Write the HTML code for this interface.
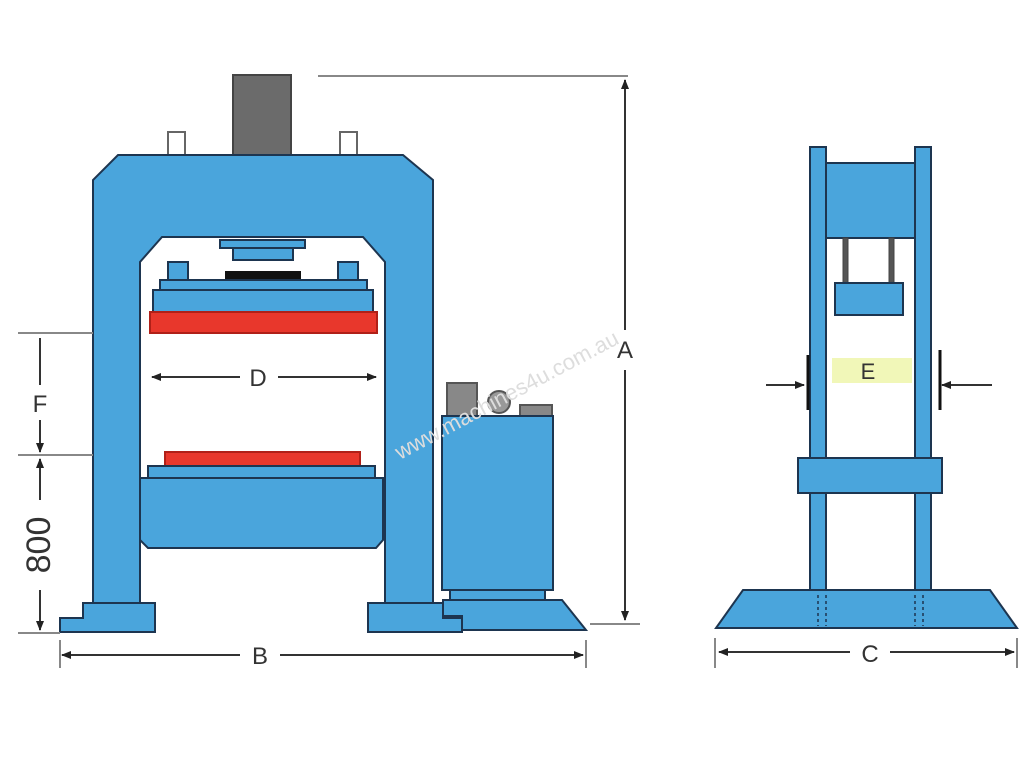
<!DOCTYPE html>
<html><head><style>body{margin:0;background:#fff}svg{display:block}</style></head><body>
<svg width="1024" height="768" viewBox="0 0 1024 768" xmlns="http://www.w3.org/2000/svg" font-family="Liberation Sans, sans-serif">
<defs>
<marker id="ar" markerWidth="10" markerHeight="8" refX="9" refY="4" orient="auto" markerUnits="userSpaceOnUse"><path d="M0,0 L10,4 L0,8 z" fill="#222"/></marker>
</defs>
<g stroke="#1d3550" stroke-width="2" fill="#4aa5dc">
<!-- cylinder & pins -->
<rect x="233" y="75" width="58" height="82" fill="#6b6b6b" stroke="#444"/>
<rect x="168" y="132" width="17" height="25" fill="#fff" stroke="#666"/>
<rect x="340" y="132" width="17" height="25" fill="#fff" stroke="#666"/>
<!-- frame -->
<path d="M118,155 L403,155 L433,180 L433,603 L385,603 L385,262 L363,237 L162,237 L140,262 L140,603 L93,603 L93,180 Z"/>
<!-- ram parts -->
<rect x="220" y="240" width="85" height="8"/>
<rect x="233" y="248" width="60" height="12"/>
<rect x="226" y="272" width="74" height="7" fill="#111" stroke="#111"/>
<rect x="168" y="262" width="20" height="18"/>
<rect x="338" y="262" width="20" height="18"/>
<rect x="160" y="280" width="207" height="10"/>
<rect x="153" y="290" width="220" height="22"/>
<rect x="150" y="312" width="227" height="21" fill="#e8372c" stroke="#b02018"/>
<!-- lower bed -->
<rect x="165" y="452" width="195" height="15" fill="#e8372c" stroke="#b02018"/>
<rect x="148" y="466" width="227" height="12"/>
<path d="M140,478 L383,478 L383,540 L376,548 L148,548 L140,540 Z"/>
<!-- feet -->
<path d="M83,603 L155,603 L155,632 L60,632 L60,618 L83,618 Z"/>
<path d="M368,603 L443,603 L443,618 L462,618 L462,632 L368,632 Z"/>
<!-- pump -->
<rect x="447" y="383" width="30" height="33" fill="#888" stroke="#555"/>
<circle cx="499" cy="402" r="11" fill="#999" stroke="#555"/>
<rect x="520" y="405" width="32" height="11" fill="#888" stroke="#555"/>
<rect x="442" y="416" width="111" height="174"/>
<rect x="450" y="590" width="95" height="10"/>
<path d="M443,600 L562,600 L586,630 L462,630 L462,616 L443,616 Z"/>
<!-- side view -->
<rect x="810" y="147" width="16" height="443"/>
<rect x="915" y="147" width="16" height="443"/>
<rect x="826" y="163" width="89" height="75"/>
<rect x="843" y="238" width="5" height="45" fill="#555" stroke="#444" stroke-width="1"/>
<rect x="889" y="238" width="5" height="45" fill="#555" stroke="#444" stroke-width="1"/>
<rect x="835" y="283" width="68" height="32"/>
<rect x="798" y="458" width="144" height="35"/>
<path d="M743,590 L990,590 L1017,628 L716,628 Z"/>
</g>
<g stroke="#1d3550" stroke-dasharray="3,3" stroke-width="1.5">
<line x1="818" y1="595" x2="818" y2="626"/><line x1="826" y1="595" x2="826" y2="626"/>
<line x1="915" y1="595" x2="915" y2="626"/><line x1="923" y1="595" x2="923" y2="626"/>
</g>
<rect x="832" y="358" width="80" height="25" fill="#f1f7b8"/>
<!-- dimension lines -->
<g stroke="#333" stroke-width="2" fill="none">
<line x1="318" y1="76" x2="628" y2="76" stroke="#888"/>
<line x1="590" y1="624" x2="640" y2="624" stroke="#888"/>
<line x1="625" y1="330" x2="625" y2="80" marker-end="url(#ar)"/>
<line x1="625" y1="370" x2="625" y2="620" marker-end="url(#ar)"/>
<line x1="240" y1="655" x2="62" y2="655" marker-end="url(#ar)"/>
<line x1="280" y1="655" x2="583" y2="655" marker-end="url(#ar)"/>
<line x1="60" y1="640" x2="60" y2="668" stroke="#888"/>
<line x1="586" y1="640" x2="586" y2="668" stroke="#888"/>
<line x1="240" y1="377" x2="152" y2="377" marker-end="url(#ar)"/>
<line x1="278" y1="377" x2="376" y2="377" marker-end="url(#ar)"/>
<line x1="18" y1="333" x2="93" y2="333" stroke="#888"/>
<line x1="18" y1="455" x2="93" y2="455" stroke="#888"/>
<line x1="18" y1="633" x2="60" y2="633" stroke="#888"/>
<line x1="40" y1="385" x2="40" y2="338"/>
<line x1="40" y1="420" x2="40" y2="452" marker-end="url(#ar)"/>
<line x1="40" y1="500" x2="40" y2="459" marker-end="url(#ar)"/>
<line x1="40" y1="590" x2="40" y2="630" marker-end="url(#ar)"/>
<line x1="850" y1="652" x2="719" y2="652" marker-end="url(#ar)"/>
<line x1="890" y1="652" x2="1014" y2="652" marker-end="url(#ar)"/>
<line x1="715" y1="638" x2="715" y2="668" stroke="#888"/>
<line x1="1017" y1="638" x2="1017" y2="668" stroke="#888"/>
<line x1="766" y1="385" x2="804" y2="385" marker-end="url(#ar)"/>
<line x1="992" y1="385" x2="942" y2="385" marker-end="url(#ar)"/>
<line x1="808" y1="355" x2="808" y2="410" stroke="#111" stroke-width="3"/>
<line x1="940" y1="350" x2="940" y2="410" stroke="#111" stroke-width="3"/>
</g>
<g fill="#333" font-size="24" text-anchor="middle">
<rect x="612" y="337" width="26" height="26" fill="#fff"/>
<text x="625" y="358">A</text>
<text x="260" y="664">B</text>
<text x="258" y="386">D</text>
<text x="40" y="412">F</text>
<text x="870" y="662">C</text>
<text x="868" y="379" font-size="22">E</text>
<text transform="translate(50,545) rotate(-90)" font-size="34">800</text>
</g>
<text transform="translate(400,460) rotate(-28)" fill="#ddd" font-size="22">www.machines4u.com.au</text>
</svg>
</body></html>
